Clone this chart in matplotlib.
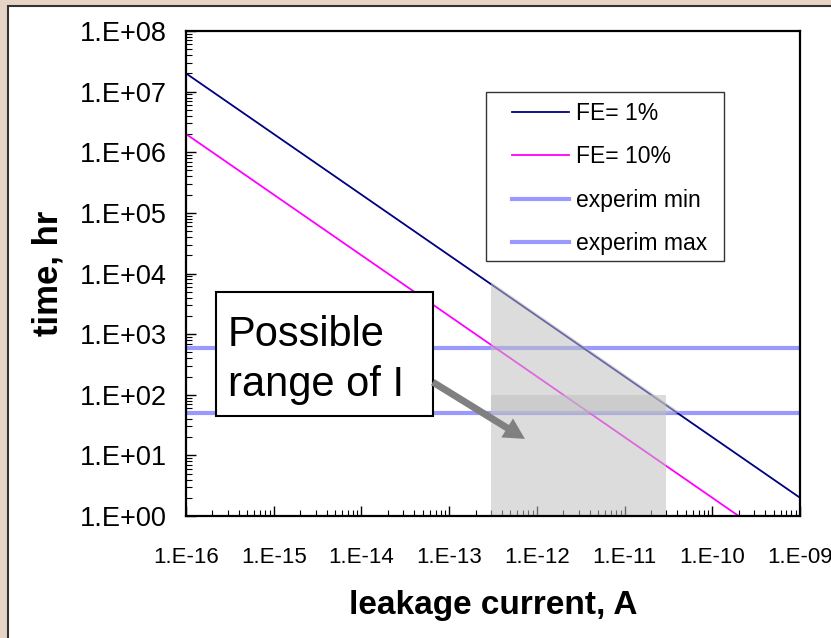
import numpy as np
import matplotlib
matplotlib.use("Agg")
import matplotlib.pyplot as plt
from matplotlib.patches import Rectangle, Polygon
from matplotlib.ticker import LogLocator, FuncFormatter, NullFormatter

plt.rcParams['font.family'] = ['Liberation Sans', 'DejaVu Sans']

# data
current = [1e-16, 1e-9]            # A
time_fe1 = [2e7, 2.0]              # hr, FE = 1%
time_fe10 = [2e6, 0.2]             # hr, FE = 10%
experim_min = 50.0                 # hr
experim_max = 580.0                # hr
range_I = [3e-13, 3e-11]           # possible range of I
range_top = 100.0

fig = plt.figure(figsize=(8.31, 6.38), dpi=100)
fig.set_facecolor("#E6D4C6")
# white slide panel
fig.add_artist(Rectangle((8 / 831, -0.01), 1.0, 1 - 6 / 638 + 0.01,
                         transform=fig.transFigure, facecolor="white",
                         edgecolor="#333333", lw=1.5, zorder=0))

ax = fig.add_axes([186 / 831, 122 / 638, 614 / 831, 485 / 638])
ax.set_facecolor("white")
ax.set_xscale("log")
ax.set_yscale("log")
ax.set_xlim(1e-16, 1e-9)
ax.set_ylim(1, 1e8)

l1, = ax.plot(current, time_fe1, color="#000080", lw=1.3, label="FE= 1%", zorder=3)
l2, = ax.plot(current, time_fe10, color="#FF00FF", lw=1.3, label="FE= 10%", zorder=3)
l3 = ax.axhline(experim_min, color="#9999FF", lw=3, label="experim min", zorder=2)
l4 = ax.axhline(experim_max, color="#9999FF", lw=3, label="experim max", zorder=2)

# shaded region: rectangle up to range_top and triangle under the FE=1% line
k = time_fe1[0] * current[0]
ax.add_patch(Rectangle((range_I[0], 1), range_I[1] - range_I[0], range_top - 1,
                       facecolor="#c0c0c0", alpha=0.55, lw=0, zorder=4))
x_end = k / experim_min
ax.add_patch(Polygon([(range_I[0], experim_min),
                      (range_I[0], k / range_I[0] * 1.1),
                      (x_end * 1.1, experim_min)],
                     closed=True, facecolor="#c0c0c0", alpha=0.55, lw=0, zorder=4))

# axes styling
for s in ax.spines.values():
    s.set_linewidth(1.6)
    s.set_color("black")
    s.set_zorder(6)
fmt = FuncFormatter(lambda v, p: "1.E%+03d" % int(round(np.log10(v))))
ax.xaxis.set_major_locator(LogLocator(base=10, numticks=20))
ax.yaxis.set_major_locator(LogLocator(base=10, numticks=20))
ax.xaxis.set_minor_locator(LogLocator(base=10, subs=np.arange(2, 10), numticks=20))
ax.yaxis.set_minor_locator(LogLocator(base=10, subs=np.arange(2, 10), numticks=20))
ax.xaxis.set_major_formatter(fmt)
ax.yaxis.set_major_formatter(fmt)
ax.xaxis.set_minor_formatter(NullFormatter())
ax.yaxis.set_minor_formatter(NullFormatter())
ax.tick_params(which="both", direction="in", top=False, right=False, color="black")
ax.tick_params(which="major", length=7, width=1)
ax.tick_params(which="minor", length=4, width=0.8)
ax.tick_params(axis="y", which="major", labelsize=19.5, pad=14)
ax.tick_params(axis="x", which="major", labelsize=16, pad=22)

ax.set_xlabel("leakage current, A", fontsize=24, fontweight="bold")
ax.set_ylabel("time, hr", fontsize=25, fontweight="bold")
ax.xaxis.set_label_coords(0.5, -0.152)
ax.yaxis.set_label_coords(-0.198, 0.5)

# legend with its own frame
ax.add_patch(Rectangle((0.489, 0.526), 0.387, 0.349, transform=ax.transAxes,
                       facecolor="white", edgecolor="#333333", lw=1, zorder=7))
leg = ax.legend(handles=[l1, l2, l3, l4], loc="upper left",
                bbox_to_anchor=(0.531, 0.853), frameon=False, fontsize=16.5,
                borderpad=0, borderaxespad=0, handlelength=2.5,
                handletextpad=0.3, labelspacing=0.88)
leg.set_zorder(8)

# text box with arrow
ax.add_patch(Rectangle((0.049, 0.206), 0.353, 0.256, transform=ax.transAxes,
                       facecolor="white", edgecolor="black", lw=1.5, zorder=7))
ax.text(0.068, 0.415, "Possible\nrange of I", transform=ax.transAxes,
        fontsize=30, va="top", ha="left", linespacing=1.32, zorder=8)
ax.annotate("", xy=(0.552, 0.159), xytext=(0.402, 0.276),
            xycoords="axes fraction", textcoords="axes fraction",
            arrowprops=dict(arrowstyle="simple,head_length=1.5,head_width=1.6,tail_width=0.5",
                            color="#808080", lw=0, shrinkA=0, shrinkB=0),
            zorder=8)

fig.savefig("out.png", dpi=100, facecolor=fig.get_facecolor())
